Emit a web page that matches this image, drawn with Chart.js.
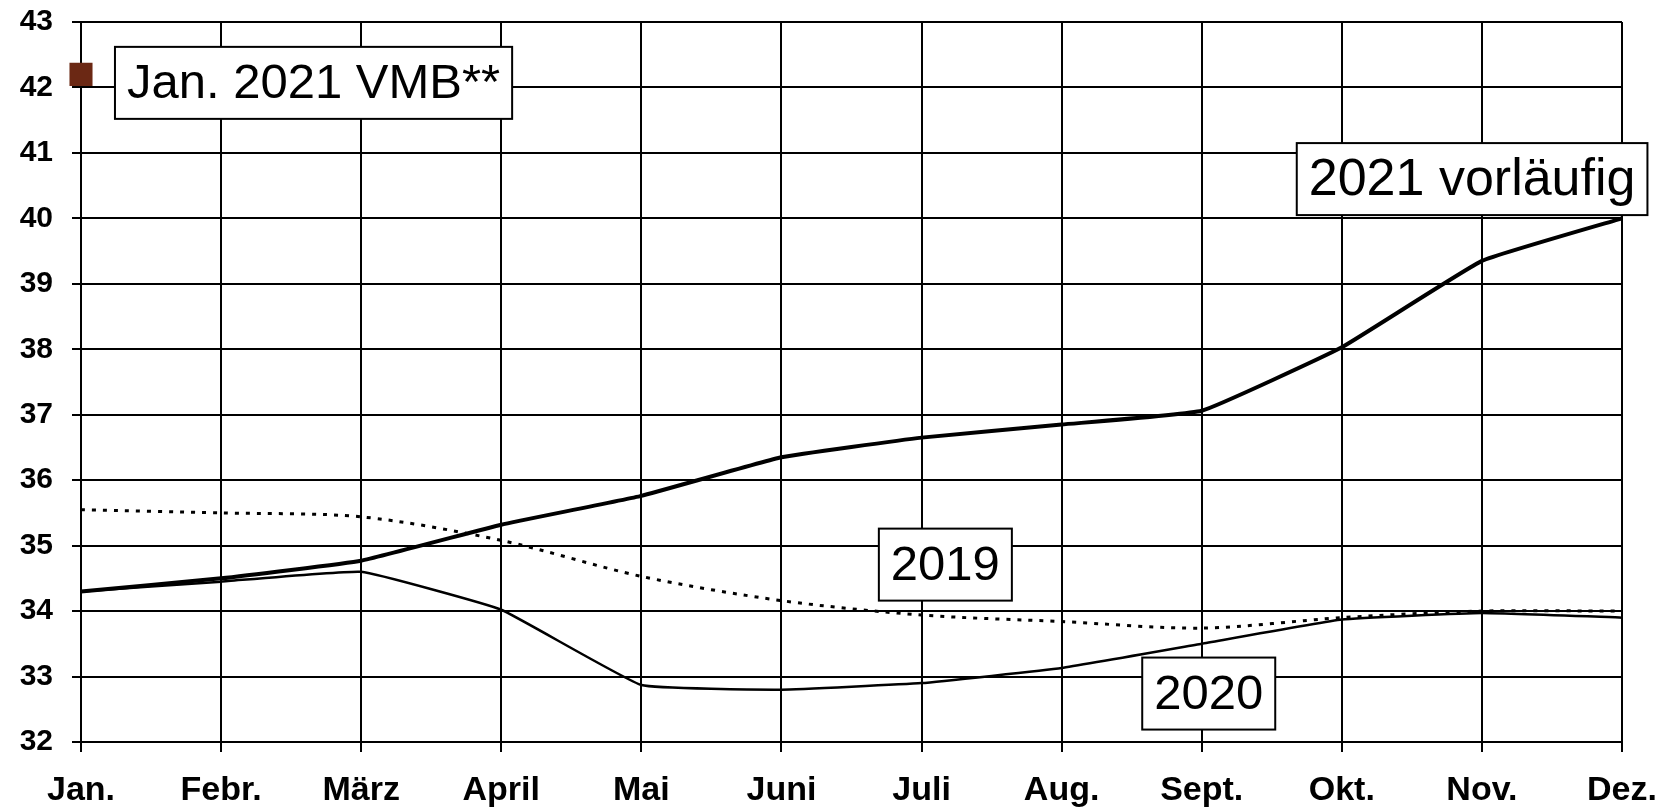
<!DOCTYPE html>
<html>
<head>
<meta charset="utf-8">
<script src="https://cdn.jsdelivr.net/npm/chart.js@4/dist/chart.umd.min.js"></script>
<style>
  html, body { margin: 0; padding: 0; background: #fff; }
  #wrap { width: 1659px; height: 811px; }
</style>
</head>
<body>
<div id="wrap"><canvas id="chart" width="1659" height="811"></canvas></div>
<script>
// Monate
const months = ['Jan.', 'Febr.', 'März', 'April', 'Mai', 'Juni', 'Juli', 'Aug.', 'Sept.', 'Okt.', 'Nov.', 'Dez.'];

// Werte
const values2021 = [34.3, 34.5, 34.77, 35.32, 35.76, 36.35, 36.65, 36.85, 37.06, 38.03, 39.35, 40.0];
const values2020 = [34.3, 34.45, 34.6, 34.02, 32.87, 32.8, 32.9, 33.13, 33.5, 33.87, 33.97, 33.9];
const values2019 = [35.55, 35.5, 35.44, 35.08, 34.53, 34.16, 33.94, 33.84, 33.74, 33.9, 34.0, 34.0];
const vmbJan2021 = [42.2, null, null, null, null, null, null, null, null, null, null, null];

const yTicks = [32, 33, 34, 35, 36, 37, 38, 39, 40, 41, 42, 43];

// Beschriftungen: [Text, x-Index, y-Wert (Mitte der Box), Schriftgröße]
const boxLabels = [
    ['Jan. 2021 VMB**', 1.66, 42.07, 49],
    ['2021 vorläufig', 9.93, 40.6, 52],
    ['2019', 6.17, 34.71, 49],
    ['2020', 8.05, 32.74, 49]
];

const labelBoxes = {
    id: 'labelBoxes',
    afterDatasetsDraw(chart) {
        const ctx = chart.ctx;
        const xs = chart.scales.x, ys = chart.scales.y;
        ctx.save();
        ctx.textAlign = 'center';
        ctx.textBaseline = 'middle';
        boxLabels.forEach(([text, xi, yv, size]) => {
            ctx.font = size + 'px "Liberation Sans", Arial, sans-serif';
            const cx = xs.left + (xs.right - xs.left) * xi / (months.length - 1);
            const cy = ys.getPixelForValue(yv);
            const w = ctx.measureText(text).width + 24;
            const h = 72;
            ctx.fillStyle = '#fff';
            ctx.fillRect(cx - w / 2, cy - h / 2, w, h);
            ctx.lineWidth = 2;
            ctx.strokeStyle = '#000';
            ctx.strokeRect(cx - w / 2, cy - h / 2, w, h);
            ctx.fillStyle = '#000';
            ctx.fillText(text, cx, cy + 2);
        });
        ctx.restore();
    }
};

const ctx = document.getElementById('chart').getContext('2d');
new Chart(ctx, {
    type: 'line',
    data: {
        labels: months,
        datasets: [
            {
                label: '2019',
                data: values2019,
                borderColor: '#000',
                borderWidth: 3,
                borderDash: [4, 7],
                pointRadius: 0,
                tension: 0.3,
                fill: false
            },
            {
                label: '2020',
                data: values2020,
                borderColor: '#000',
                borderWidth: 2.5,
                pointRadius: 0,
                tension: 0.1,
                fill: false
            },
            {
                label: '2021 vorläufig',
                data: values2021,
                borderColor: '#000',
                borderWidth: 4,
                pointRadius: 0,
                tension: 0.1,
                fill: false
            },
            {
                label: 'Jan. 2021 VMB**',
                data: vmbJan2021,
                showLine: false,
                pointStyle: 'rect',
                pointRadius: 16.3,
                pointBackgroundColor: '#6b2814',
                pointBorderColor: '#6b2814',
                pointBorderWidth: 0
            }
        ]
    },
    options: {
        responsive: false,
        animation: false,
        layout: { padding: { top: 22, right: 37, left: 0, bottom: 0 } },
        plugins: {
            legend: { display: false },
            tooltip: { enabled: false }
        },
        scales: {
            x: {
                offset: false,
                grid: { color: '#000', lineWidth: 2, tickLength: 10, offset: false },
                border: { color: '#000', width: 2 },
                ticks: {
                    color: '#000',
                    padding: 18,
                    maxRotation: 0,
                    autoSkip: false,
                    font: { family: '"Liberation Sans", Arial, sans-serif', size: 34, weight: 'bold' }
                },
                afterFit(scale) {
                    scale.height = 69;
                    scale.paddingLeft = 0;
                    scale.paddingRight = 0;
                }
            },
            y: {
                min: 32,
                max: 43,
                afterBuildTicks(scale) { scale.ticks = yTicks.map(v => ({ value: v })); },
                grid: { color: '#000', lineWidth: 2, tickLength: 9 },
                border: { color: '#000', width: 2 },
                ticks: {
                    color: '#000',
                    padding: 19,
                    font: { family: '"Liberation Sans", Arial, sans-serif', size: 30, weight: 'bold' }
                },
                afterFit(scale) {
                    scale.width = 81;
                    scale.paddingTop = 0;
                    scale.paddingBottom = 0;
                }
            }
        }
    },
    plugins: [labelBoxes]
});
</script>
</body>
</html>
